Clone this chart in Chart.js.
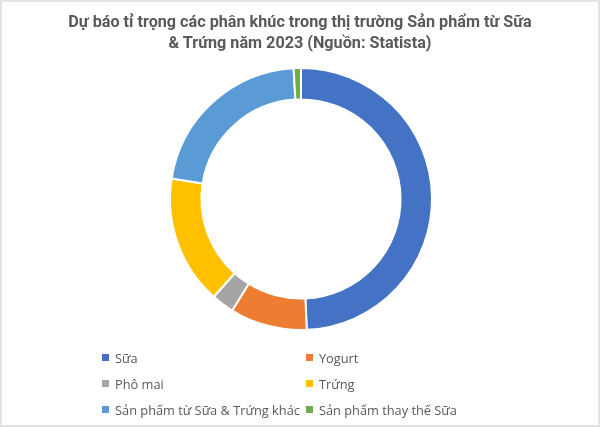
<!DOCTYPE html>
<html lang="vi">
<head>
    <meta charset="UTF-8">
    <title>Dự báo tỉ trọng Sữa & Trứng 2023</title>
    <script src="https://cdn.jsdelivr.net/npm/chart.js"></script>
    <style>
        html, body {
            margin: 0;
            padding: 0;
            background: #ffffff;
        }
        .frame {
            position: relative;
            width: 600px;
            height: 427px;
            box-sizing: border-box;
            border: 2px solid #e3e3e3;
            overflow: hidden;
        }
        #chartBox {
            position: absolute;
            left: 0;
            top: 0;
            width: 596px;
            height: 423px;
        }
        #title {
            position: absolute;
            left: 0;
            top: 9px;
            width: 596px;
            text-align: center;
            font-family: Roboto, sans-serif;
            font-weight: bold;
            font-size: 16.2px;
            line-height: 21px;
            color: #595959;
        }
        #legend {
            position: absolute;
            left: 100px;
            top: 346px;
            display: grid;
            grid-template-columns: auto auto;
            column-gap: 6px;
            row-gap: 7px;
            font-family: "Open Sans", sans-serif;
            font-size: 12.8px;
            color: #595959;
        }
        #legend .item {
            display: flex;
            align-items: center;
            height: 19px;
            white-space: nowrap;
        }
        #legend .box {
            width: 7px;
            height: 7px;
            margin-right: 6px;
        }
    </style>
</head>
<body>
<div class="frame">
    <div id="chartBox"><canvas id="donut"></canvas></div>
    <div id="title"></div>
    <div id="legend"></div>
</div>

<script>
    // Data (share in %)
    var segments = ['Sữa', 'Yogurt', 'Phô mai', 'Trứng', 'Sản phẩm từ Sữa & Trứng khác', 'Sản phẩm thay thế Sữa'];
    var shares = [49.3, 9.5, 2.8, 15.9, 21.6, 0.9];
    var colors = ['#4472C4', '#ED7D31', '#A5A5A5', '#FFC000', '#5B9BD5', '#70AD47'];
    var titleLines = ['Dự báo tỉ trọng các phân khúc trong thị trường Sản phẩm từ Sữa', '& Trứng năm 2023 (Nguồn: Statista)'];

    // two line title above the ring
    var titleEl = document.getElementById('title');
    titleLines.forEach(function (line) {
        var d = document.createElement('div');
        d.textContent = line;
        titleEl.appendChild(d);
    });

    var ctx = document.getElementById('donut').getContext('2d');
    var donut = new Chart(ctx, {
        type: 'doughnut',
        data: {
            labels: segments,
            datasets: [{
                data: shares,
                backgroundColor: colors,
                borderColor: '#ffffff',
                borderWidth: 2
            }]
        },
        options: {
            responsive: true,
            maintainAspectRatio: false,
            animation: false,
            cutout: '76%',
            layout: {
                padding: { top: 65, bottom: 94, left: 2, right: 0 }
            },
            plugins: {
                legend: { display: false },
                tooltip: { enabled: false },
                title: { display: false }
            }
        }
    });

    // legend laid out as a two column grid, like the original
    var legendEl = document.getElementById('legend');
    donut.options.plugins.legend.labels.generateLabels(donut).forEach(function (item) {
        var row = document.createElement('div');
        row.className = 'item';
        var box = document.createElement('span');
        box.className = 'box';
        box.style.background = item.fillStyle;
        var txt = document.createElement('span');
        txt.textContent = item.text;
        row.appendChild(box);
        row.appendChild(txt);
        legendEl.appendChild(row);
    });
</script>
</body>
</html>
